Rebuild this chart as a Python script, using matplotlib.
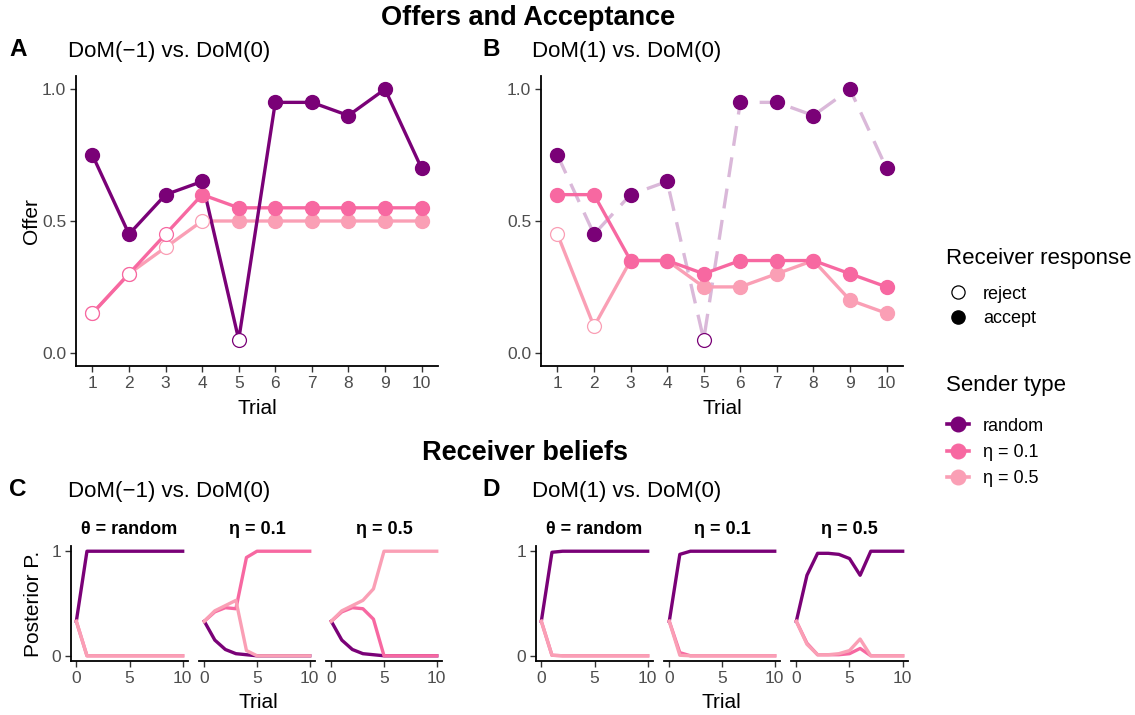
import numpy as np
import matplotlib
matplotlib.use("Agg")
import matplotlib.pyplot as plt
from matplotlib.lines import Line2D

plt.rcParams['font.family'] = ['Liberation Sans', 'DejaVu Sans']

# ---- data ----
trials = np.arange(1, 11)
offer_random = [0.75, 0.45, 0.60, 0.65, 0.05, 0.95, 0.95, 0.90, 1.00, 0.70]
accept_random = [1, 1, 1, 1, 0, 1, 1, 1, 1, 1]

offer_A_eta01 = [0.15, 0.30, 0.45, 0.60, 0.55, 0.55, 0.55, 0.55, 0.55, 0.55]
accept_A_eta01 = [0, 0, 0, 1, 1, 1, 1, 1, 1, 1]
offer_A_eta05 = [0.15, 0.30, 0.40, 0.50, 0.50, 0.50, 0.50, 0.50, 0.50, 0.50]
accept_A_eta05 = [0, 0, 0, 0, 1, 1, 1, 1, 1, 1]

offer_B_eta01 = [0.60, 0.60, 0.35, 0.35, 0.30, 0.35, 0.35, 0.35, 0.30, 0.25]
accept_B_eta01 = [1, 1, 1, 1, 1, 1, 1, 1, 1, 1]
offer_B_eta05 = [0.45, 0.10, 0.35, 0.35, 0.25, 0.25, 0.30, 0.35, 0.20, 0.15]
accept_B_eta05 = [0, 0, 1, 1, 1, 1, 1, 1, 1, 1]

belief_trials = np.arange(0, 11)
# posterior beliefs: [P(random), P(eta=0.1), P(eta=0.5)] per true sender
C_random = [[0.33, 1, 1, 1, 1, 1, 1, 1, 1, 1, 1],
            [0.33, 0, 0, 0, 0, 0, 0, 0, 0, 0, 0],
            [0.33, 0, 0, 0, 0, 0, 0, 0, 0, 0, 0]]
C_eta01 = [[0.33, 0.15, 0.06, 0.02, 0.01, 0, 0, 0, 0, 0, 0],
           [0.33, 0.42, 0.46, 0.45, 0.94, 1, 1, 1, 1, 1, 1],
           [0.33, 0.43, 0.48, 0.53, 0.05, 0, 0, 0, 0, 0, 0]]
C_eta05 = [[0.33, 0.15, 0.06, 0.02, 0.01, 0, 0, 0, 0, 0, 0],
           [0.33, 0.42, 0.46, 0.45, 0.35, 0, 0, 0, 0, 0, 0],
           [0.33, 0.43, 0.48, 0.53, 0.64, 1, 1, 1, 1, 1, 1]]
D_random = [[0.33, 0.99, 1, 1, 1, 1, 1, 1, 1, 1, 1],
            [0.33, 0.005, 0, 0, 0, 0, 0, 0, 0, 0, 0],
            [0.33, 0.005, 0, 0, 0, 0, 0, 0, 0, 0, 0]]
D_eta01 = [[0.33, 0.97, 1, 1, 1, 1, 1, 1, 1, 1, 1],
           [0.33, 0.03, 0, 0, 0, 0, 0, 0, 0, 0, 0],
           [0.33, 0.005, 0, 0, 0, 0, 0, 0, 0, 0, 0]]
D_eta05 = [[0.33, 0.77, 0.98, 0.98, 0.97, 0.93, 0.77, 1, 1, 1, 1],
           [0.33, 0.12, 0.01, 0.01, 0.01, 0.02, 0.07, 0, 0, 0, 0],
           [0.33, 0.11, 0.01, 0.01, 0.02, 0.05, 0.16, 0, 0, 0, 0]]

sender_labels = ['random', 'η = 0.1', 'η = 0.5']
facet_titles = ['θ = random', 'η = 0.1', 'η = 0.5']
colors = ['#7A0177', '#F768A1', '#FA9FB5']

W, H = 1135, 715
fig = plt.figure(figsize=(W / 100, H / 100), dpi=100)


def rect(l, t, r, b):
    return [l / W, 1 - b / H, (r - l) / W, (b - t) / H]


def style(ax, show_y=True):
    for s in ['top', 'right']:
        ax.spines[s].set_visible(False)
    ax.spines['bottom'].set_linewidth(1.3)
    ax.spines['left'].set_linewidth(1.3)
    ax.tick_params(length=4, width=1.0, color='#333333', labelcolor='#4D4D4D',
                   labelsize=12.5, pad=3)
    if not show_y:
        ax.spines['left'].set_visible(False)
        ax.tick_params(axis='y', left=False, labelleft=False)


def offer_series(ax, y, acc, color, dashed=False):
    y = np.array(y)
    acc = np.array(acc, dtype=bool)
    if dashed:
        ax.plot(trials, y, color=color, alpha=0.28, lw=2.4, ls=(0, (6, 3.5)), zorder=2)
    else:
        ax.plot(trials, y, color=color, lw=2.4, zorder=2)
    ax.plot(trials[acc], y[acc], 'o', ms=10, color=color, mec=color, zorder=3)
    ax.plot(trials[~acc], y[~acc], 'o', ms=10, mfc='white', mec=color, mew=0.9, zorder=4)


# ---- top panels ----
axA = fig.add_axes(rect(76, 76, 438, 366))
axB = fig.add_axes(rect(541, 76, 903, 366))
offer_series(axA, offer_A_eta05, accept_A_eta05, colors[2])
offer_series(axA, offer_A_eta01, accept_A_eta01, colors[1])
offer_series(axA, offer_random, accept_random, colors[0])
offer_series(axB, offer_random, accept_random, colors[0], dashed=True)
offer_series(axB, offer_B_eta05, accept_B_eta05, colors[2])
offer_series(axB, offer_B_eta01, accept_B_eta01, colors[1])

for ax in (axA, axB):
    style(ax)
    ax.set_xlim(0.55, 10.45)
    ax.set_ylim(-0.05, 1.05)
    ax.set_xticks(trials)
    ax.set_yticks([0, 0.5, 1.0])
    ax.set_yticklabels(['0.0', '0.5', '1.0'])
    ax.set_xlabel('Trial', fontsize=15, labelpad=6)
axA.set_ylabel('Offer', fontsize=15, labelpad=1)

# ---- bottom facets ----
facet_boxes_C = [(71, 188), (199, 315), (326, 442)]
facet_boxes_D = [(536, 653), (664, 780), (791, 908)]
for boxes, beliefs in ((facet_boxes_C, (C_random, C_eta01, C_eta05)),
                       (facet_boxes_D, (D_random, D_eta01, D_eta05))):
    for i, ((l, r), b) in enumerate(zip(boxes, beliefs)):
        ax = fig.add_axes(rect(l, 546, r, 661))
        for k in range(3):
            ax.plot(belief_trials, b[k], color=colors[k], lw=2.4, zorder=2 + k)
        style(ax, show_y=(i == 0))
        ax.set_xlim(-0.5, 10.5)
        ax.set_ylim(-0.05, 1.05)
        ax.set_xticks([0, 5, 10])
        ax.set_yticks([0, 1])
        ax.set_title(facet_titles[i], fontsize=13, fontweight='bold', pad=9)
        if boxes is facet_boxes_C and i == 0:
            ax.set_ylabel('Posterior P.', fontsize=15, labelpad=6)

# ---- texts ----
fig.text(528 / W, 1 - 18 / H, 'Offers and Acceptance', fontsize=19.5, fontweight='bold',
         ha='center', va='center')
fig.text(525 / W, 1 - 453 / H, 'Receiver beliefs', fontsize=19.5, fontweight='bold',
         ha='center', va='center')
for lab, x, y in (('A', 9, 50), ('B', 482, 50), ('C', 9, 490), ('D', 482, 490)):
    fig.text(x / W, 1 - y / H, lab, fontsize=17.5, fontweight='bold', va='center')
for txt, x, y in (('DoM(−1) vs. DoM(0)', 68, 51), ('DoM(1) vs. DoM(0)', 532, 51),
                  ('DoM(−1) vs. DoM(0)', 68, 491), ('DoM(1) vs. DoM(0)', 532, 491)):
    fig.text(x / W, 1 - y / H, txt, fontsize=16, va='center')
fig.text(258 / W, 1 - 702 / H, 'Trial', fontsize=15, ha='center', va='center')
fig.text(721 / W, 1 - 702 / H, 'Trial', fontsize=15, ha='center', va='center')

# ---- legends ----
fig.text(946 / W, 1 - 259 / H, 'Receiver response', fontsize=16, va='center')
fig.text(946 / W, 1 - 386 / H, 'Sender type', fontsize=16, va='center')
resp_handles = [Line2D([], [], ls='none', marker='o', ms=9.5, mfc='white', mec='black', mew=0.9),
                Line2D([], [], ls='none', marker='o', ms=9.5, color='black')]
fig.legend(resp_handles, ['reject', 'accept'],
           loc='center left', bbox_to_anchor=(947 / W, 1 - 306.5 / H), frameon=False,
           fontsize=13, handlelength=1.2, handletextpad=0.8, labelspacing=0.42,
           borderpad=0, borderaxespad=0)
send_handles = [Line2D([], [], color=c, lw=2.6, marker='o', ms=10.5) for c in colors]
fig.legend(send_handles, sender_labels,
           loc='center left', bbox_to_anchor=(947 / W, 1 - 452.5 / H), frameon=False,
           fontsize=13, handlelength=1.2, handletextpad=0.8, labelspacing=0.52,
           borderpad=0, borderaxespad=0)

fig.savefig('out.png', dpi=100)
